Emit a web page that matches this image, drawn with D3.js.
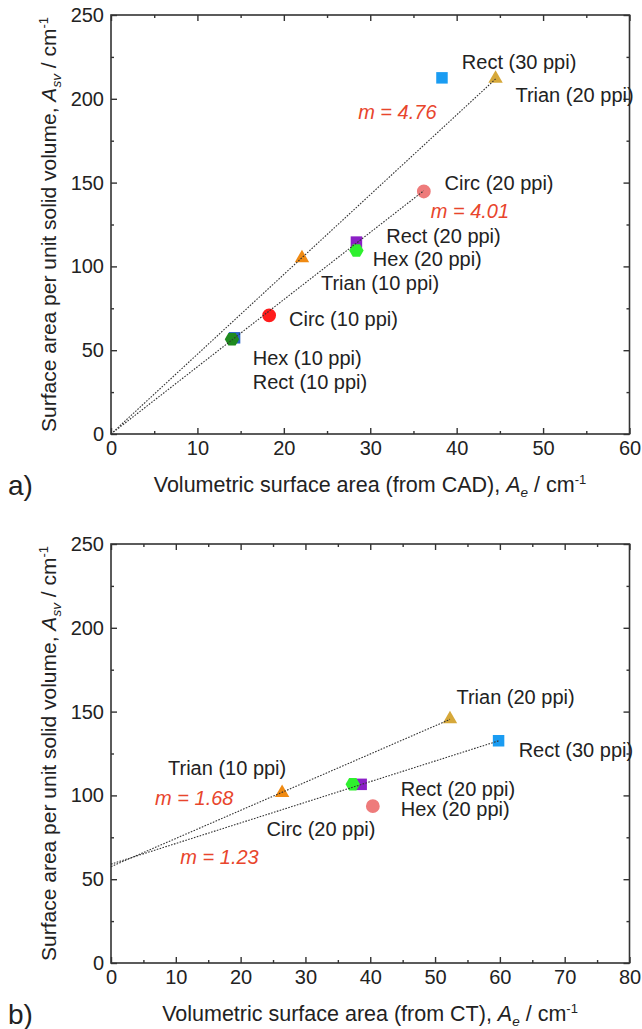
<!DOCTYPE html>
<html><head><meta charset="utf-8">
<script src="https://cdn.jsdelivr.net/npm/d3@7"></script>
<style>
body{margin:0;background:#fff}
svg{display:block}
text{font-family:"Liberation Sans",Arial,sans-serif}
</style>
</head><body>
<svg id="c" width="642" height="1029"></svg>
<script>
// ---------- DATA ----------
const yTicks = [0, 50, 100, 150, 200, 250];
const yMinor = [25, 75, 125, 175, 225];
const xTicksA = [0, 10, 20, 30, 40, 50, 60];
const xMinorA = [5, 15, 25, 35, 45, 55];
const xTicksB = [0, 10, 20, 30, 40, 50, 60, 70, 80];
const xMinorB = [5, 15, 25, 35, 45, 55, 65, 75];

// Panel a (CAD)
const cadNames = ["Rect (10 ppi)", "Hex (10 ppi)", "Circ (10 ppi)", "Trian (10 ppi)", "Rect (20 ppi)", "Hex (20 ppi)", "Circ (20 ppi)", "Trian (20 ppi)", "Rect (30 ppi)"];
const cadX = [14.3, 14.0, 18.3, 22.1, 28.4, 28.4, 36.2, 44.5, 38.3];
const cadY = [57.4, 56.5, 70.8, 105.0, 114.5, 109.5, 144.7, 212.0, 212.5];
const cadFitSlope = [4.76, 4.01];
const cadFitIntercept = [0, 0];
const cadFitXmax = [44.5, 36.2];
const cadFitText = ["m = 4.76", "m = 4.01"];
// annotation anchors (data units: left x, middle y)
const cadLabelText = ["Rect (30 ppi)", "Trian (20 ppi)", "Circ (20 ppi)", "Rect (20 ppi)", "Hex (20 ppi)", "Trian (10 ppi)", "Circ (10 ppi)", "Hex (10 ppi)", "Rect (10 ppi)"];
const cadLabelX = [40.6, 46.8, 38.6, 31.85, 30.3, 24.3, 20.6, 16.4, 16.4];
const cadLabelY = [222, 202, 149.6, 118, 104.6, 90, 68.8, 45.6, 31.1];
const cadFitLabelX = [28.6, 37.0];
const cadFitLabelY = [192, 133];

// Panel b (CT)
const ctNames = ["Trian (10 ppi)", "Rect (20 ppi)", "Hex (20 ppi)", "Circ (20 ppi)", "Trian (20 ppi)", "Rect (30 ppi)"];
const ctX = [26.4, 38.6, 37.3, 40.4, 52.3, 59.8];
const ctY = [101.6, 106.6, 106.6, 93.6, 145.6, 132.6];
const ctFitSlope = [1.68, 1.23];
const ctFitIntercept = [57.5, 59.0];
const ctFitXmax = [52.3, 59.8];
const ctFitText = ["m = 1.68", "m = 1.23"];
const ctLabelText = ["Trian (20 ppi)", "Rect (30 ppi)", "Trian (10 ppi)", "Rect (20 ppi)", "Hex (20 ppi)", "Circ (20 ppi)"];
const ctLabelX = [53.3, 62.9, 8.8, 44.7, 44.7, 24.0];
const ctLabelY = [158.6, 127, 116.6, 103.6, 91.6, 80];
const ctFitLabelX = [6.8, 10.7];
const ctFitLabelY = [98.6, 63.2];

// ---------- STYLES ----------
const markerStyle = {
  "Rect (10 ppi)":  {shape: "square",   color: "#2a63c4"},
  "Hex (10 ppi)":   {shape: "hexagon",  color: "#1f8a1f"},
  "Circ (10 ppi)":  {shape: "circle",   color: "#ff1c1c"},
  "Trian (10 ppi)": {shape: "triangle", color: "#f08a12"},
  "Rect (20 ppi)":  {shape: "square",   color: "#8b1fc6"},
  "Hex (20 ppi)":   {shape: "hexagon",  color: "#2ef02e"},
  "Circ (20 ppi)":  {shape: "circle",   color: "#ee7b7b"},
  "Trian (20 ppi)": {shape: "triangle", color: "#d6a83a"},
  "Rect (30 ppi)":  {shape: "square",   color: "#1a9cf2"}
};
const symbolHex = {
  draw(ctx, size) {
    const r = Math.sqrt(size / (1.5 * Math.sqrt(3)));
    for (let i = 0; i < 6; i++) {
      const a = Math.PI / 3 * i;
      const px = r * Math.cos(a), py = r * Math.sin(a);
      if (i === 0) ctx.moveTo(px, py); else ctx.lineTo(px, py);
    }
    ctx.closePath();
  }
};
const shapeMap = {
  square: [d3.symbolSquare, 132],
  circle: [d3.symbolCircle, 150],
  triangle: [d3.symbolTriangle, 90],
  hexagon: [symbolHex, 135]
};
const FRAME = "#333";
const FIT_COLOR = "#e8452c";
const FS = 20;

const svg = d3.select("#c");

function axisTitleY(g, x, yMid) {
  const t = g.append("text")
    .attr("transform", `translate(${x},${yMid}) rotate(-90)`)
    .attr("text-anchor", "middle")
    .attr("font-size", 21).attr("fill", "#222");
  t.append("tspan").text("Surface area per unit solid volume, ");
  t.append("tspan").attr("font-style", "italic").text("A");
  t.append("tspan").attr("font-style", "italic").attr("font-size", 13.5).attr("dy", 5).text("sv");
  t.append("tspan").attr("dy", -5).text(" / cm");
  t.append("tspan").attr("font-size", 13).attr("dy", -8).text("-1");
}
function axisTitleX(g, xMid, y, src) {
  const t = g.append("text")
    .attr("x", xMid).attr("y", y)
    .attr("text-anchor", "middle")
    .attr("font-size", 21.5).attr("fill", "#222");
  t.append("tspan").text(`Volumetric surface area (from ${src}), `);
  t.append("tspan").attr("font-style", "italic").text("A");
  t.append("tspan").attr("font-style", "italic").attr("font-size", 13.5).attr("dy", 5).text("e");
  t.append("tspan").attr("dy", -5).text(" / cm");
  t.append("tspan").attr("font-size", 13).attr("dy", -8).text("-1");
}

function drawPanel(cfg) {
  const left = 111, right = 629.5, top = cfg.top, bottom = cfg.top + 419;
  const x = d3.scaleLinear().domain([0, cfg.xMax]).range([left, right]);
  const y = d3.scaleLinear().domain([0, 250]).range([bottom, top]);
  const g = svg.append("g");

  const style = sel => {
    sel.select(".domain").remove();
    sel.selectAll(".tick line").attr("stroke", FRAME).attr("stroke-width", 1.4);
    sel.selectAll(".tick text").attr("font-size", FS).attr("fill", "#222")
      .attr("font-family", "Liberation Sans, Arial, sans-serif");
  };
  // bottom
  g.append("g").attr("transform", `translate(0,${bottom})`)
    .call(d3.axisBottom(x).tickValues(cfg.xTicks).tickSize(-6).tickPadding(7).tickFormat(d3.format("d"))).call(style);
  g.append("g").attr("transform", `translate(0,${bottom})`)
    .call(d3.axisBottom(x).tickValues(cfg.xMinor).tickSize(-3).tickFormat("")).call(style);
  // top
  g.append("g").attr("transform", `translate(0,${top})`)
    .call(d3.axisTop(x).tickValues(cfg.xTicks).tickSize(-6).tickFormat("")).call(style);
  g.append("g").attr("transform", `translate(0,${top})`)
    .call(d3.axisTop(x).tickValues(cfg.xMinor).tickSize(-3).tickFormat("")).call(style);
  // left
  g.append("g").attr("transform", `translate(${left},0)`)
    .call(d3.axisLeft(y).tickValues(yTicks).tickSize(-6).tickPadding(7).tickFormat(d3.format("d"))).call(style);
  g.append("g").attr("transform", `translate(${left},0)`)
    .call(d3.axisLeft(y).tickValues(yMinor).tickSize(-3).tickFormat("")).call(style);
  // right
  g.append("g").attr("transform", `translate(${right},0)`)
    .call(d3.axisRight(y).tickValues(yTicks).tickSize(-6).tickFormat("")).call(style);
  g.append("g").attr("transform", `translate(${right},0)`)
    .call(d3.axisRight(y).tickValues(yMinor).tickSize(-3).tickFormat("")).call(style);

  g.append("rect").attr("x", left).attr("y", top).attr("width", right - left).attr("height", bottom - top)
    .attr("fill", "none").attr("stroke", FRAME).attr("stroke-width", 1.6);

  // markers
  cfg.names.forEach((n, i) => {
    const st = markerStyle[n];
    const [type, size] = shapeMap[st.shape];
    g.append("path")
      .attr("d", d3.symbol().type(type).size(size)())
      .attr("transform", `translate(${x(cfg.xs[i])},${y(cfg.ys[i])})`)
      .attr("fill", st.color);
  });

  // fit lines
  const line = d3.line().x(d => x(d[0])).y(d => y(d[1]));
  cfg.slope.forEach((m, i) => {
    const b = cfg.intercept[i];
    const pts = [[0, b], [cfg.fitXmax[i], b + m * cfg.fitXmax[i]]];
    g.append("path").attr("d", line(pts))
      .attr("fill", "none").attr("stroke", "#333").attr("stroke-width", 1.1)
      .attr("stroke-dasharray", "1.6,1.4");
  });

  // labels
  cfg.labelText.forEach((t, i) => {
    g.append("text").attr("x", x(cfg.labelX[i])).attr("y", y(cfg.labelY[i]))
      .attr("dy", "0.35em").attr("font-size", FS).attr("fill", "#222").text(t);
  });
  cfg.fitText.forEach((t, i) => {
    g.append("text").attr("x", x(cfg.fitLabelX[i])).attr("y", y(cfg.fitLabelY[i]))
      .attr("dy", "0.35em").attr("font-size", FS).attr("font-style", "italic")
      .attr("fill", FIT_COLOR).text(t);
  });

  axisTitleY(g, 56, (top + bottom) / 2);
  axisTitleX(g, 370, bottom + 58, cfg.src);
  g.append("text").attr("x", 8).attr("y", bottom + 61).attr("font-size", 28).attr("fill", "#222").text(cfg.tag);
}

drawPanel({
  top: 15, xMax: 60, xTicks: xTicksA, xMinor: xMinorA, src: "CAD", tag: "a)",
  names: cadNames, xs: cadX, ys: cadY,
  slope: cadFitSlope, intercept: cadFitIntercept, fitXmax: cadFitXmax,
  labelText: cadLabelText, labelX: cadLabelX, labelY: cadLabelY,
  fitText: cadFitText, fitLabelX: cadFitLabelX, fitLabelY: cadFitLabelY
});
drawPanel({
  top: 544, xMax: 80, xTicks: xTicksB, xMinor: xMinorB, src: "CT", tag: "b)",
  names: ctNames, xs: ctX, ys: ctY,
  slope: ctFitSlope, intercept: ctFitIntercept, fitXmax: ctFitXmax,
  labelText: ctLabelText, labelX: ctLabelX, labelY: ctLabelY,
  fitText: ctFitText, fitLabelX: ctFitLabelX, fitLabelY: ctFitLabelY
});
</script>
</body></html>
